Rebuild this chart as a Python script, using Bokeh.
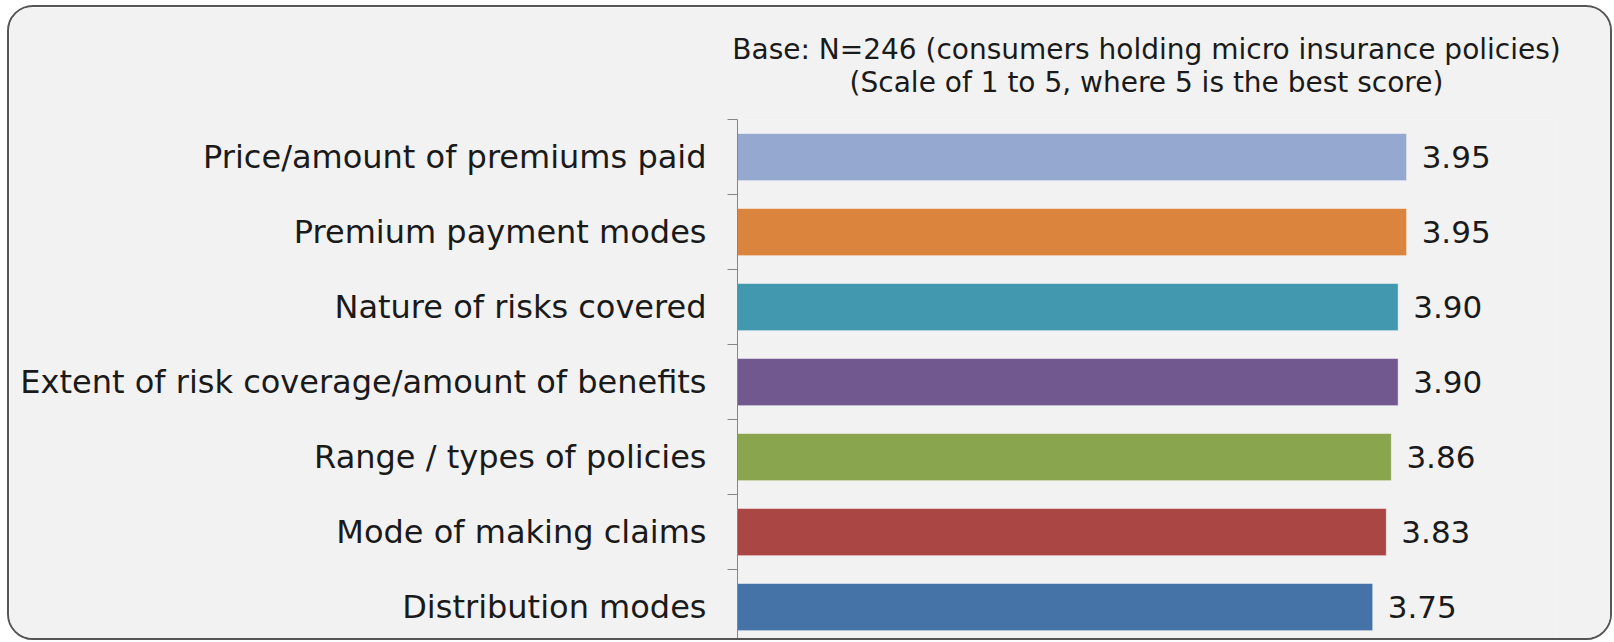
from bokeh.plotting import figure
from bokeh.models import Range1d, FixedTicker, ColumnDataSource, Title
from bokeh.core.properties import value
from bokeh.embed import file_html
from bokeh.resources import INLINE

categories = [
    "Price/amount of premiums paid",
    "Premium payment modes",
    "Nature of risks covered",
    "Extent of risk coverage/amount of benefits",
    "Range / types of policies",
    "Mode of making claims",
    "Distribution modes",
]
scores = [3.95, 3.95, 3.90, 3.90, 3.86, 3.83, 3.75]
colors = ["#95A9D0", "#DB843D", "#4298AF", "#71588F", "#89A54E", "#AA4643", "#4572A7"]
title_lines = [
    "Base: N=246 (consumers holding micro insurance policies)",
    "(Scale of 1 to 5, where 5 is the best score)",
]

FONT = "DejaVu Sans"
n = len(categories)
centers = [n - 0.5 - i for i in range(n)]
boundaries = list(range(n + 1))

W, H = 1605, 635
top, left, right = 112, 728, 59
band_px = 75
px_per_unit = 169.4
y_start = n - (H - top) / band_px
x_end = (W - left - right) / px_per_unit

src = ColumnDataSource(dict(
    y=centers, score=scores, color=colors,
    label=[f"{v:.2f}" for v in scores],
))

p = figure(width=W, height=H, x_range=Range1d(0, x_end), y_range=Range1d(y_start, n),
           output_backend="svg", toolbar_location=None,
           min_border_left=left, min_border_right=right,
           min_border_top=top, min_border_bottom=0)
p.styles = {"border": "2px solid #555555", "border-radius": "26px", "overflow": "hidden",
            "margin-left": "7px", "margin-top": "5px"}
p.background_fill_color = "#f2f2f2"
p.border_fill_color = "#f2f2f2"
p.outline_line_color = None
p.title.visible = False
p.xgrid.visible = False
p.ygrid.visible = False
p.xaxis.visible = False

ya = p.yaxis[0]
ya.ticker = FixedTicker(ticks=centers, minor_ticks=boundaries)
ya.major_label_overrides = {c: cat for c, cat in zip(centers, categories)}
ya.major_tick_out = 0
ya.major_tick_in = 0
ya.minor_tick_out = 10
ya.minor_tick_in = 0
ya.axis_line_color = "#868686"
ya.minor_tick_line_color = "#868686"
ya.major_label_text_font = FONT
ya.major_label_text_font_size = "32px"
ya.major_label_text_color = "#1a1a1a"
ya.major_label_standoff = 21

p.hbar(y="y", left=0, right="score", height=0.63, fill_color="color",
       line_color="white", line_alpha=0.5, line_width=1, source=src)
p.text(x="score", y="y", text="label", x_offset=15, text_baseline="middle",
       text_align="left", text_font=value(FONT), text_font_size="31px",
       text_color="#1a1a1a", source=src)

p.add_layout(Title(text="\n".join(title_lines), align="center", text_align="center",
                   text_font=FONT, text_font_size="28px", text_line_height=1.0,
                   text_font_style="normal", text_color="#1a1a1a", standoff=42), "above")

open("out.html", "w").write(file_html(p, INLINE))
